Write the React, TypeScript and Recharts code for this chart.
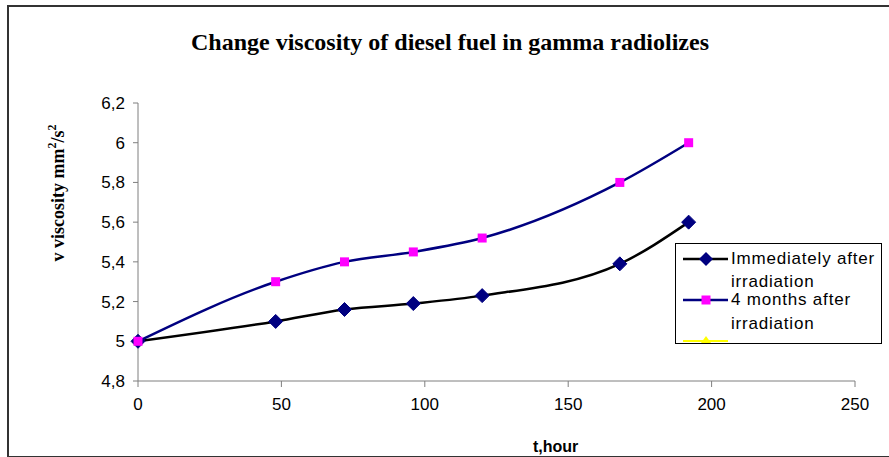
import { Line, LineChart, XAxis, YAxis, Label } from "recharts";

const HOURS = [0, 48, 72, 96, 120, 168, 192];
const IMMEDIATE = [5, 5.1, 5.16, 5.19, 5.23, 5.39, 5.6];
const FOUR_MONTHS = [5, 5.3, 5.4, 5.45, 5.52, 5.8, 6.0];

const X_TICKS = [0, 50, 100, 150, 200, 250];
const Y_TICKS = [4.8, 5, 5.2, 5.4, 5.6, 5.8, 6, 6.2];

const NAVY = "#000080";
const MAGENTA = "#ff00ff";
const AXIS = "#7f7f7f";

const data = HOURS.map((t, i) => ({
  t,
  immediate: IMMEDIATE[i],
  fourMonths: FOUR_MONTHS[i],
}));

const fmt = (v: number) => String(Number(v.toFixed(1))).replace(".", ",");

function Diamond(props: any) {
  const { cx, cy, index } = props;
  if (cx == null || cy == null) return <g key={index} />;
  const r = 7;
  return (
    <polygon
      key={index}
      points={`${cx},${cy - r} ${cx + r},${cy} ${cx},${cy + r} ${cx - r},${cy}`}
      fill={NAVY}
      stroke={NAVY}
      strokeWidth={1}
    />
  );
}

function Square(props: any) {
  const { cx, cy, index } = props;
  if (cx == null || cy == null) return <g key={index} />;
  const s = 9;
  return <rect key={index} x={cx - s / 2} y={cy - s / 2} width={s} height={s} fill={MAGENTA} />;
}

const legendText = {
  fontFamily: "'Liberation Sans', Arial, sans-serif",
  fontSize: 17,
  letterSpacing: 0.8,
  fill: "#000",
};

// legend drawn as an overlay, the recharts Legend would steal plot height
function LegendBox() {
  return (
    <svg
      width={208}
      height={102}
      style={{ position: "absolute", left: 675, top: 243, display: "block" }}
    >
      <rect x={0.5} y={0.5} width={206} height={100} fill="#fff" stroke="#000" strokeWidth={1} />
      <line x1={8} x2={53} y1={16} y2={16} stroke="#000" strokeWidth={2.5} />
      <polygon points="31,9 38,16 31,23 24,16" fill={NAVY} />
      <text x={56} y={21} {...legendText}>Immediately after</text>
      <text x={56} y={44} {...legendText}>irradiation</text>
      <line x1={8} x2={53} y1={57} y2={57} stroke={NAVY} strokeWidth={2.5} />
      <rect x={26.5} y={52.5} width={9} height={9} fill={MAGENTA} />
      <text x={56} y={62} {...legendText}>4 months after</text>
      <text x={56} y={86} {...legendText}>irradiation</text>
      <line x1={8} x2={53} y1={98} y2={98} stroke="#ffff00" strokeWidth={2} />
      <polygon points="31,93 36,100 26,100" fill="#ffff00" />
    </svg>
  );
}

export default function App() {
  return (
    <div style={{ position: "absolute", left: 0, top: 0, width: 889, height: 457, background: "#fff", overflow: "hidden" }}>
      <div
        style={{
          position: "absolute",
          left: 7,
          top: 5,
          width: 900,
          height: 449,
          borderTop: "2px solid #333",
          borderLeft: "2px solid #333",
          borderBottom: "2px solid #333",
        }}
      />
      <div
        style={{
          position: "absolute",
          left: 0,
          top: 29,
          width: 900,
          textAlign: "center",
          fontFamily: "'Liberation Serif', 'Times New Roman', serif",
          fontWeight: "bold",
          fontSize: 24,
          color: "#000",
        }}
      >
        Change viscosity of diesel fuel in gamma radiolizes
      </div>
      <div
        style={{
          position: "absolute",
          left: 533,
          top: 438,
          fontFamily: "'Liberation Sans', Arial, sans-serif",
          fontWeight: "bold",
          fontSize: 16,
        }}
      >
        t,hour
      </div>
      <LineChart
        width={889}
        height={457}
        data={data}
        margin={{ top: 103, right: 34, bottom: 46, left: 78 }}
        style={{ position: "absolute", left: 0, top: 0 }}
      >
        <XAxis
          dataKey="t"
          type="number"
          domain={[0, 250]}
          ticks={X_TICKS}
          height={30}
          tickSize={6}
          tickMargin={11}
          stroke={AXIS}
          tick={{ fill: "#000", fontSize: 17, fontFamily: "'Liberation Sans Narrow', 'Arial Narrow', 'Liberation Sans', sans-serif" }}
        />
        <YAxis
          type="number"
          domain={[4.8, 6.2]}
          ticks={Y_TICKS}
          width={60}
          tickSize={5}
          tickMargin={8}
          tickFormatter={fmt}
          stroke={AXIS}
          tick={{ fill: "#000", fontSize: 17, fontFamily: "'Liberation Sans', Arial, sans-serif" }}
        >
          <Label
            content={() => (
              <text
                transform="translate(64 193) rotate(-90)"
                textAnchor="middle"
                fontFamily="'Liberation Serif', 'Times New Roman', serif"
                fontWeight="bold"
                fontSize={18}
                fill="#000"
              >
                v viscosity mm
                <tspan fontSize={12} dy={-8}>2</tspan>
                <tspan dy={8}>/s</tspan>
                <tspan fontSize={12} dy={-8}>2</tspan>
              </text>
            )}
          />
        </YAxis>
        <Line
          type="monotone"
          dataKey="immediate"
          stroke="#000"
          strokeWidth={2.5}
          dot={Diamond}
          activeDot={false}
          isAnimationActive={false}
        />
        <Line
          type="monotone"
          dataKey="fourMonths"
          stroke={NAVY}
          strokeWidth={2.5}
          dot={Square}
          activeDot={false}
          isAnimationActive={false}
        />
      </LineChart>
      <LegendBox />
    </div>
  );
}
